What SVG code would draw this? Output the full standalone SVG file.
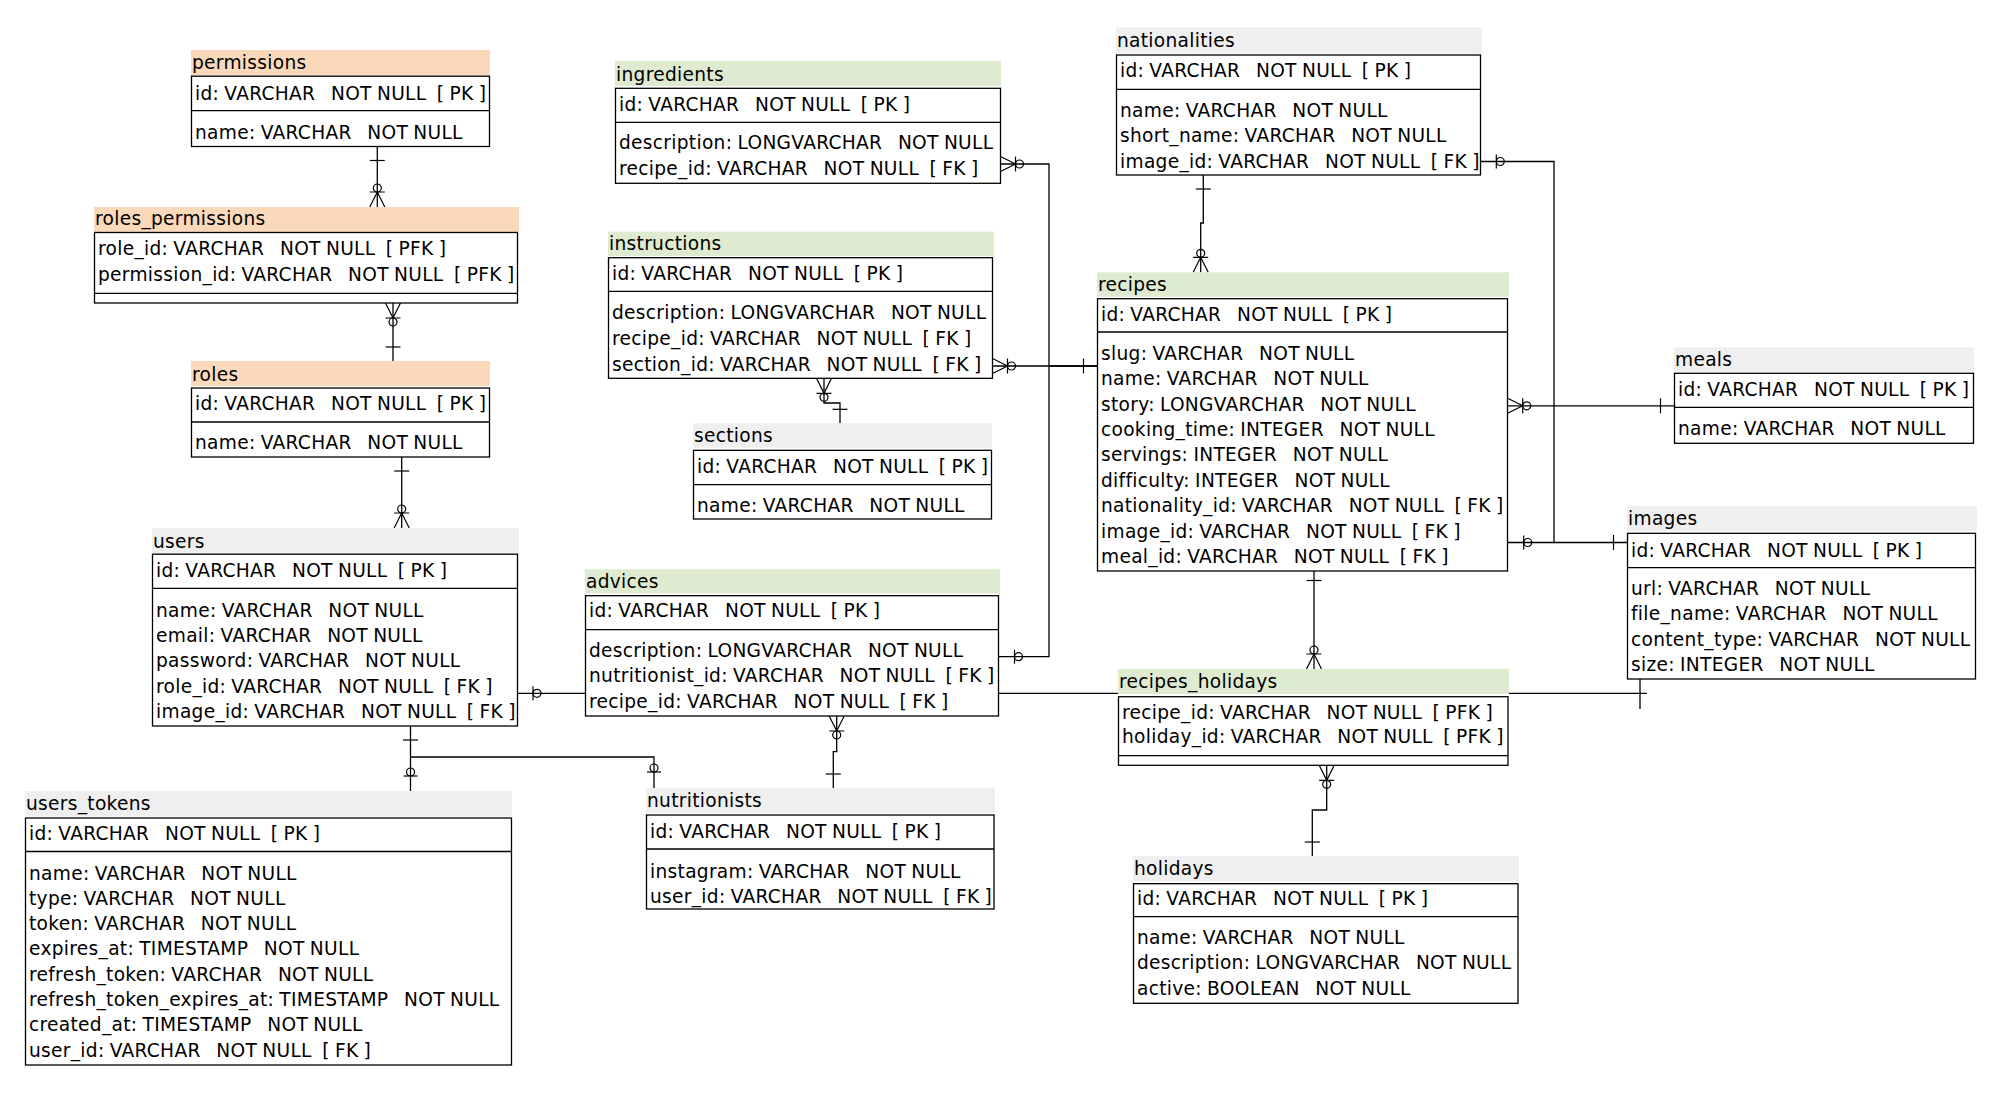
<svg xmlns="http://www.w3.org/2000/svg" width="2003" height="1094" viewBox="0 0 2003 1094" xml:space="preserve">
<style>
.t{font-family:"DejaVu Sans","Liberation Sans",sans-serif;font-size:18.6px;letter-spacing:0.3px;word-spacing:-1px;fill:#000;white-space:pre}
.peach{fill:#FAD9BB}
.green{fill:#DFEBD1}
.gray{fill:#EFEFEF}
.box{fill:#fff;stroke:#000;stroke-width:1.3}
.div{stroke:#000;stroke-width:1.3}
.c{fill:none;stroke:#000;stroke-width:1.3}
.mk{fill:none;stroke:#000;stroke-width:1.2}
</style>
<defs>
<marker id="one" markerUnits="userSpaceOnUse" orient="auto-start-reverse" overflow="visible" markerWidth="1" markerHeight="1"><path class="mk" d="M-14,-7.5V7.5"/></marker>
<marker id="oneNear" markerUnits="userSpaceOnUse" orient="auto-start-reverse" overflow="visible" markerWidth="1" markerHeight="1"><path class="mk" d="M-9.5,-7.5V7.5"/></marker>
<marker id="zeroOne" markerUnits="userSpaceOnUse" orient="auto-start-reverse" overflow="visible" markerWidth="1" markerHeight="1"><path class="mk" d="M-16,-7V7"/><circle class="mk" cx="-20" cy="0" r="4"/></marker>
<marker id="many" markerUnits="userSpaceOnUse" orient="auto-start-reverse" overflow="visible" markerWidth="1" markerHeight="1"><path class="mk" d="M0,-7.5L-15,0L0,7.5M-15,-7.5V7.5"/><circle class="mk" cx="-19" cy="0" r="4"/></marker>
</defs>
<rect width="2003" height="1094" fill="#fff"/>
<g id="connectors">
<path class="c" d="M377.3,146.5V207" marker-start="url(#one)" marker-end="url(#many)"/>
<path class="c" d="M393,303V361" marker-start="url(#many)" marker-end="url(#one)"/>
<path class="c" d="M401.7,457V528" marker-start="url(#one)" marker-end="url(#many)"/>
<path class="c" d="M517,693.3H1647" marker-start="url(#zeroOne)"/>
<path class="c" d="M1640,679V709"/>
<path class="c" d="M410.5,726V792" marker-start="url(#one)" marker-end="url(#zeroOne)"/>
<path class="c" d="M410.5,757H654V788" marker-end="url(#zeroOne)"/>
<path class="c" d="M836.7,716V751.7H833.3V788" marker-start="url(#many)" marker-end="url(#one)"/>
<path class="c" d="M1000.5,164H1049V366H1097.5" marker-start="url(#many)" marker-end="url(#one)"/>
<path class="c" d="M992.5,366H1097.5" marker-start="url(#many)"/>
<path class="c" d="M998.5,656.7H1049V366" marker-start="url(#zeroOne)"/>
<path class="c" d="M824,378.3V403H840V423.3" marker-start="url(#many)" marker-end="url(#one)"/>
<path class="c" d="M1203.3,175V223H1200.7V272.3" marker-start="url(#one)" marker-end="url(#many)"/>
<path class="c" d="M1480.3,161.5H1554V542.5H1627.5" marker-start="url(#zeroOne)" marker-end="url(#one)"/>
<path class="c" d="M1507.7,542.5H1554" marker-start="url(#zeroOne)"/>
<path class="c" d="M1507.7,405.8H1674.5" marker-start="url(#many)" marker-end="url(#one)"/>
<path class="c" d="M1314,571V669" marker-start="url(#oneNear)" marker-end="url(#many)"/>
<path class="c" d="M1326.7,765.3V810H1312.3V856" marker-start="url(#many)" marker-end="url(#one)"/>
</g>
<g id="permissions">
<rect class="peach" x="191" y="50" width="299" height="25.5"/>
<text class="t" x="192" y="69">permissions</text>
<rect class="box" x="191.5" y="76.2" width="298" height="70.3"/>
<line class="div" x1="191.5" y1="110.7" x2="489.5" y2="110.7"/>
<text class="t" x="195" y="100">id: VARCHAR   NOT NULL  [ PK ]</text>
<text class="t" x="195" y="139">name: VARCHAR   NOT NULL</text>
</g>
<g id="roles_permissions">
<rect class="peach" x="94" y="207" width="425" height="25"/>
<text class="t" x="95" y="225">roles_permissions</text>
<rect class="box" x="94.5" y="232.5" width="423" height="70.5"/>
<line class="div" x1="94.5" y1="293.3" x2="517.5" y2="293.3"/>
<text class="t" x="98" y="255">role_id: VARCHAR   NOT NULL  [ PFK ]</text>
<text class="t" x="98" y="280.7">permission_id: VARCHAR   NOT NULL  [ PFK ]</text>
</g>
<g id="roles">
<rect class="peach" x="191" y="361" width="299" height="25"/>
<text class="t" x="192" y="380.5">roles</text>
<rect class="box" x="191.5" y="388" width="298" height="69"/>
<line class="div" x1="191.5" y1="422" x2="489.5" y2="422"/>
<text class="t" x="195" y="410">id: VARCHAR   NOT NULL  [ PK ]</text>
<text class="t" x="195" y="449">name: VARCHAR   NOT NULL</text>
</g>
<g id="users">
<rect class="gray" x="152" y="528" width="367" height="26"/>
<text class="t" x="153" y="547.5">users</text>
<rect class="box" x="152.5" y="554.2" width="365" height="171.8"/>
<line class="div" x1="152.5" y1="588.3" x2="517.5" y2="588.3"/>
<text class="t" x="156" y="576.7">id: VARCHAR   NOT NULL  [ PK ]</text>
<text class="t" x="156" y="616.7">name: VARCHAR   NOT NULL</text>
<text class="t" x="156" y="642">email: VARCHAR   NOT NULL</text>
<text class="t" x="156" y="667.3">password: VARCHAR   NOT NULL</text>
<text class="t" x="156" y="692.6">role_id: VARCHAR   NOT NULL  [ FK ]</text>
<text class="t" x="156" y="718">image_id: VARCHAR   NOT NULL  [ FK ]</text>
</g>
<g id="users_tokens">
<rect class="gray" x="25" y="791" width="487" height="25.5"/>
<text class="t" x="26" y="810">users_tokens</text>
<rect class="box" x="25.5" y="818" width="486" height="247"/>
<line class="div" x1="25.5" y1="851.5" x2="511.5" y2="851.5"/>
<text class="t" x="29" y="839.5">id: VARCHAR   NOT NULL  [ PK ]</text>
<text class="t" x="29" y="879.5">name: VARCHAR   NOT NULL</text>
<text class="t" x="29" y="904.8">type: VARCHAR   NOT NULL</text>
<text class="t" x="29" y="930.1">token: VARCHAR   NOT NULL</text>
<text class="t" x="29" y="955.4">expires_at: TIMESTAMP   NOT NULL</text>
<text class="t" x="29" y="980.7">refresh_token: VARCHAR   NOT NULL</text>
<text class="t" x="29" y="1006">refresh_token_expires_at: TIMESTAMP   NOT NULL</text>
<text class="t" x="29" y="1031.3">created_at: TIMESTAMP   NOT NULL</text>
<text class="t" x="29" y="1056.6">user_id: VARCHAR   NOT NULL  [ FK ]</text>
</g>
<g id="ingredients">
<rect class="green" x="615" y="61" width="386" height="25"/>
<text class="t" x="616" y="80.7">ingredients</text>
<rect class="box" x="615.5" y="88.3" width="385" height="95"/>
<line class="div" x1="615.5" y1="122.3" x2="1000.5" y2="122.3"/>
<text class="t" x="619" y="111">id: VARCHAR   NOT NULL  [ PK ]</text>
<text class="t" x="619" y="149.3">description: LONGVARCHAR   NOT NULL</text>
<text class="t" x="619" y="175">recipe_id: VARCHAR   NOT NULL  [ FK ]</text>
</g>
<g id="instructions">
<rect class="green" x="608" y="231.7" width="386" height="24.3"/>
<text class="t" x="609" y="250">instructions</text>
<rect class="box" x="608.5" y="257.7" width="384" height="120.6"/>
<line class="div" x1="608.5" y1="291.3" x2="992.5" y2="291.3"/>
<text class="t" x="612" y="280">id: VARCHAR   NOT NULL  [ PK ]</text>
<text class="t" x="612" y="319.3">description: LONGVARCHAR   NOT NULL</text>
<text class="t" x="612" y="345">recipe_id: VARCHAR   NOT NULL  [ FK ]</text>
<text class="t" x="612" y="370.7">section_id: VARCHAR   NOT NULL  [ FK ]</text>
</g>
<g id="sections">
<rect class="gray" x="693" y="423.3" width="299" height="24.5"/>
<text class="t" x="694" y="442.3">sections</text>
<rect class="box" x="693.5" y="450.3" width="298" height="68.7"/>
<line class="div" x1="693.5" y1="484.7" x2="991.5" y2="484.7"/>
<text class="t" x="697" y="472.7">id: VARCHAR   NOT NULL  [ PK ]</text>
<text class="t" x="697" y="511.7">name: VARCHAR   NOT NULL</text>
</g>
<g id="advices">
<rect class="green" x="585" y="569.3" width="415" height="24.2"/>
<text class="t" x="586" y="588.3">advices</text>
<rect class="box" x="585.5" y="595.7" width="413" height="120.3"/>
<line class="div" x1="585.5" y1="629.7" x2="998.5" y2="629.7"/>
<text class="t" x="589" y="617.3">id: VARCHAR   NOT NULL  [ PK ]</text>
<text class="t" x="589" y="656.7">description: LONGVARCHAR   NOT NULL</text>
<text class="t" x="589" y="682.3">nutritionist_id: VARCHAR   NOT NULL  [ FK ]</text>
<text class="t" x="589" y="708">recipe_id: VARCHAR   NOT NULL  [ FK ]</text>
</g>
<g id="nutritionists">
<rect class="gray" x="646" y="788" width="349" height="25"/>
<text class="t" x="647" y="807">nutritionists</text>
<rect class="box" x="646.5" y="815" width="347.5" height="94"/>
<line class="div" x1="646.5" y1="849" x2="994" y2="849"/>
<text class="t" x="650" y="837.5">id: VARCHAR   NOT NULL  [ PK ]</text>
<text class="t" x="650" y="877.5">instagram: VARCHAR   NOT NULL</text>
<text class="t" x="650" y="903">user_id: VARCHAR   NOT NULL  [ FK ]</text>
</g>
<g id="nationalities">
<rect class="gray" x="1116" y="27.3" width="366" height="26"/>
<text class="t" x="1117" y="46.7">nationalities</text>
<rect class="box" x="1116.5" y="55" width="364" height="120"/>
<line class="div" x1="1116.5" y1="89.3" x2="1480.5" y2="89.3"/>
<text class="t" x="1120" y="77.3">id: VARCHAR   NOT NULL  [ PK ]</text>
<text class="t" x="1120" y="116.7">name: VARCHAR   NOT NULL</text>
<text class="t" x="1120" y="142.3">short_name: VARCHAR   NOT NULL</text>
<text class="t" x="1120" y="167.7">image_id: VARCHAR   NOT NULL  [ FK ]</text>
</g>
<g id="recipes">
<rect class="green" x="1097" y="272.3" width="412" height="24.5"/>
<text class="t" x="1098" y="290.7">recipes</text>
<rect class="box" x="1097.5" y="298.7" width="410" height="272.3"/>
<line class="div" x1="1097.5" y1="332" x2="1507.5" y2="332"/>
<text class="t" x="1101" y="320.7">id: VARCHAR   NOT NULL  [ PK ]</text>
<text class="t" x="1101" y="360">slug: VARCHAR   NOT NULL</text>
<text class="t" x="1101" y="385.3">name: VARCHAR   NOT NULL</text>
<text class="t" x="1101" y="410.7">story: LONGVARCHAR   NOT NULL</text>
<text class="t" x="1101" y="436">cooking_time: INTEGER   NOT NULL</text>
<text class="t" x="1101" y="461.4">servings: INTEGER   NOT NULL</text>
<text class="t" x="1101" y="486.7">difficulty: INTEGER   NOT NULL</text>
<text class="t" x="1101" y="512.1">nationality_id: VARCHAR   NOT NULL  [ FK ]</text>
<text class="t" x="1101" y="537.5">image_id: VARCHAR   NOT NULL  [ FK ]</text>
<text class="t" x="1101" y="562.9">meal_id: VARCHAR   NOT NULL  [ FK ]</text>
</g>
<g id="meals">
<rect class="gray" x="1674" y="347.3" width="300" height="24.5"/>
<text class="t" x="1675" y="365.7">meals</text>
<rect class="box" x="1674.5" y="373.3" width="299" height="70"/>
<line class="div" x1="1674.5" y1="407.3" x2="1973.5" y2="407.3"/>
<text class="t" x="1678" y="395.7">id: VARCHAR   NOT NULL  [ PK ]</text>
<text class="t" x="1678" y="435">name: VARCHAR   NOT NULL</text>
</g>
<g id="images">
<rect class="gray" x="1627" y="506" width="350" height="25"/>
<text class="t" x="1628" y="525">images</text>
<rect class="box" x="1627.5" y="533.3" width="348" height="145.7"/>
<line class="div" x1="1627.5" y1="567.7" x2="1975.5" y2="567.7"/>
<text class="t" x="1631" y="556.7">id: VARCHAR   NOT NULL  [ PK ]</text>
<text class="t" x="1631" y="595">url: VARCHAR   NOT NULL</text>
<text class="t" x="1631" y="620.3">file_name: VARCHAR   NOT NULL</text>
<text class="t" x="1631" y="645.6">content_type: VARCHAR   NOT NULL</text>
<text class="t" x="1631" y="670.9">size: INTEGER   NOT NULL</text>
</g>
<g id="recipes_holidays">
<rect class="green" x="1118" y="669" width="391" height="25"/>
<text class="t" x="1119" y="688.3">recipes_holidays</text>
<rect class="box" x="1118.5" y="696.7" width="389.5" height="68.6"/>
<line class="div" x1="1118.5" y1="755.7" x2="1508" y2="755.7"/>
<text class="t" x="1122" y="719">recipe_id: VARCHAR   NOT NULL  [ PFK ]</text>
<text class="t" x="1122" y="743.3">holiday_id: VARCHAR   NOT NULL  [ PFK ]</text>
</g>
<g id="holidays">
<rect class="gray" x="1133" y="856" width="386" height="25"/>
<text class="t" x="1134" y="875">holidays</text>
<rect class="box" x="1133.5" y="883.7" width="384.5" height="119.6"/>
<line class="div" x1="1133.5" y1="916.7" x2="1518" y2="916.7"/>
<text class="t" x="1137" y="905">id: VARCHAR   NOT NULL  [ PK ]</text>
<text class="t" x="1137" y="944">name: VARCHAR   NOT NULL</text>
<text class="t" x="1137" y="969.3">description: LONGVARCHAR   NOT NULL</text>
<text class="t" x="1137" y="994.6">active: BOOLEAN   NOT NULL</text>
</g>
</svg>
